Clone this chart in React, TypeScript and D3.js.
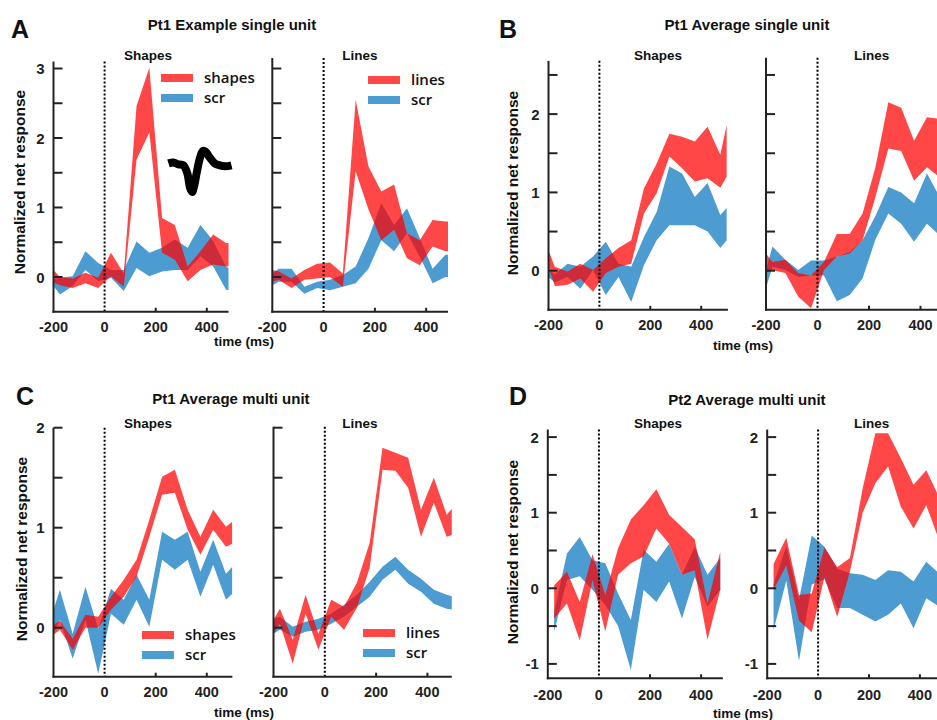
import React from 'react';
import * as d3 from 'd3';

// ---------- data ----------
const TIME = [-200, -175, -125, -75, -25, 25, 75, 125, 175, 225, 275, 325, 375, 425, 475, 500];
const X_TICKS = [-200, 0, 200, 400];

// Panel A: Pt1 Example single unit
const aShapesHi = [0.1, 0.0, -0.02, 0.06, -0.01, 0.35, 0.05, 2.46, 3.01, 0.85, 0.75, 0.15, 0.37, 0.61, 0.49, 0.48];
const aShapesLo = [-0.08, -0.12, -0.16, -0.09, -0.16, 0.01, -0.14, 1.69, 2.08, 0.35, 0.25, -0.06, 0.1, 0.18, 0.15, 0.15];
const aShapesScrHi = [-0.04, -0.01, 0.01, 0.37, 0.2, 0.1, 0.1, 0.51, 0.35, 0.42, 0.54, 0.42, 0.75, 0.52, 0.15, 0.1];
const aShapesScrLo = [-0.13, -0.25, -0.13, 0.1, -0.06, -0.01, -0.2, 0.13, 0.01, 0.08, 0.1, 0.1, 0.3, 0.15, -0.18, -0.2];
const aLinesHi = [0.1, 0.08, -0.02, 0.1, 0.19, 0.21, 0.05, 2.55, 1.59, 1.23, 1.33, 0.63, 0.53, 0.82, 0.8, 0.8];
const aLinesLo = [-0.07, -0.04, -0.16, -0.04, -0.02, 0.0, -0.14, 1.52, 0.97, 0.53, 0.68, 0.27, 0.17, 0.44, 0.37, 0.37];
const aLinesScrHi = [0.05, 0.12, 0.12, -0.14, -0.07, -0.04, 0.03, 0.15, 0.56, 1.06, 0.75, 0.99, 0.56, 0.12, 0.32, 0.32];
const aLinesScrLo = [-0.12, -0.07, -0.07, -0.24, -0.16, -0.19, -0.14, -0.09, 0.12, 0.53, 0.37, 0.63, 0.29, -0.09, 0.0, 0.0];

// Panel B: Pt1 Average single unit
const bShapesHi = [0.26, 0.05, -0.01, 0.09, 0.01, 0.16, 0.29, 0.39, 1.05, 1.37, 1.75, 1.71, 1.65, 1.84, 1.48, 1.86];
const bShapesLo = [0.05, -0.2, -0.18, -0.1, -0.27, -0.03, 0.05, 0.09, 0.73, 0.99, 1.46, 1.31, 1.14, 1.18, 1.06, 1.2];
const bShapesScrHi = [0.01, -0.05, 0.09, 0.05, 0.18, 0.37, 0.09, 0.05, 0.43, 0.75, 1.33, 1.24, 0.94, 1.12, 0.71, 0.8];
const bShapesScrLo = [-0.08, -0.15, -0.08, -0.23, 0.01, -0.31, -0.08, -0.4, 0.07, 0.39, 0.58, 0.58, 0.58, 0.5, 0.29, 0.39];
const bLinesHi = [0.22, 0.11, 0.14, -0.03, -0.06, 0.11, 0.47, 0.47, 0.73, 1.32, 2.15, 2.08, 1.66, 1.96, 1.94, 1.94];
const bLinesLo = [-0.03, 0.01, -0.03, -0.33, -0.48, 0.01, 0.18, 0.22, 0.39, 0.94, 1.56, 1.53, 1.15, 1.32, 1.19, 1.19];
const bLinesScrHi = [0.01, 0.31, 0.14, 0.01, 0.13, 0.13, 0.18, 0.24, 0.39, 0.7, 1.07, 1.0, 0.86, 1.24, 0.94, 0.94];
const bLinesScrLo = [-0.22, 0.05, 0.01, -0.08, -0.06, -0.06, -0.39, -0.31, -0.1, 0.4, 0.73, 0.6, 0.37, 0.6, 0.45, 0.45];

// Panel C: Pt1 Average multi unit
const cShapesHi = [0.03, 0.07, -0.11, 0.13, 0.11, 0.31, 0.48, 0.68, 1.08, 1.51, 1.58, 1.18, 0.91, 1.18, 1.01, 1.06];
const cShapesLo = [-0.07, -0.02, -0.22, 0.0, 0.0, 0.18, 0.31, 0.51, 0.91, 1.33, 1.35, 0.98, 0.73, 0.98, 0.81, 0.84];
const cShapesScrHi = [0.18, 0.38, -0.06, 0.41, -0.01, 0.39, 0.28, 0.53, 0.28, 0.96, 0.88, 0.96, 0.56, 0.88, 0.54, 0.61];
const cShapesScrLo = [-0.06, 0.08, -0.31, 0.08, -0.46, 0.14, 0.03, 0.28, 0.01, 0.68, 0.58, 0.68, 0.31, 0.63, 0.28, 0.34];
const cLinesHi = [0.08, 0.19, -0.12, 0.33, -0.06, 0.28, 0.21, 0.45, 0.85, 1.8, 1.75, 1.7, 1.18, 1.5, 1.13, 1.2];
const cLinesLo = [-0.06, 0.04, -0.36, 0.14, -0.22, 0.11, -0.02, 0.2, 0.6, 1.58, 1.57, 1.4, 0.91, 1.25, 0.91, 0.93];
const cLinesScrHi = [0.09, 0.11, 0.01, 0.06, 0.09, 0.14, 0.23, 0.33, 0.46, 0.61, 0.71, 0.58, 0.49, 0.38, 0.33, 0.31];
const cLinesScrLo = [-0.06, -0.02, -0.09, -0.04, -0.02, 0.04, 0.11, 0.21, 0.31, 0.48, 0.58, 0.44, 0.36, 0.24, 0.19, 0.18];

// Panel D: Pt2 Average multi unit
const dShapesHi = [null, 0.04, 0.22, -0.18, 0.45, -0.09, 0.53, 0.91, 1.1, 1.31, 0.97, 0.81, 0.65, -0.2, 0.48, null];
const dShapesLo = [null, -0.4, -0.2, -0.69, 0.11, -0.57, 0.18, 0.33, 0.42, 0.79, 0.59, 0.18, 0.24, -0.68, -0.02, null];
const dShapesScrHi = [null, -0.31, 0.46, 0.68, 0.37, 0.33, -0.07, -0.42, 0.51, 0.35, 0.59, 0.18, 0.55, 0.18, 0.4, null];
const dShapesScrLo = [null, -0.57, 0.11, 0.16, -0.02, -0.22, -0.5, -1.08, -0.02, -0.18, 0.09, -0.4, 0.15, -0.24, -0.02, null];
const dLinesHi = [null, 0.32, 0.67, -0.09, -0.07, 0.54, 0.28, 0.4, 1.32, 2.05, 2.05, 1.72, 1.37, 1.56, 1.21, null];
const dLinesLo = [null, -0.02, 0.3, -0.43, -0.58, 0.15, -0.38, 0.22, 1.0, 1.39, 1.61, 1.08, 0.79, 1.1, 0.64, null];
const dLinesScrHi = [null, 0.05, 0.56, -0.15, 0.7, 0.55, 0.26, 0.2, 0.18, 0.11, 0.24, 0.22, 0.09, 0.35, 0.2, null];
const dLinesScrLo = [null, -0.55, 0.1, -0.96, 0.05, 0.12, -0.26, -0.26, -0.35, -0.44, -0.35, -0.2, -0.53, -0.13, -0.24, null];

// spike waveform inset (panel A)
const WAVE_T = [0, 5, 10, 15, 19, 22, 24, 26, 29, 32, 35, 38, 42, 47, 52, 58, 64];
const WAVE_V = [0.1, 0.15, 0.05, 0.0, -0.4, -1.2, -1.4, -1.1, -0.3, 0.4, 0.75, 0.7, 0.4, 0.1, 0.0, -0.05, 0.0];

// ---------- style ----------
const RED = 'rgb(255,0,0)';
const BLUE = 'rgb(0,114,189)';
const RED_OP = 0.72;
const BLUE_OP = 0.7;
const FONT = "'Liberation Sans', Arial, sans-serif";
const LEGEND_FONT = "'Open Sans', 'Liberation Sans', sans-serif";
const AXIS = '#222';

type Arr = (number | null)[];
interface Cfg {
  id: string;
  x0: number; k: number; tEnd: number;
  y0: number; u: number; vMin: number; vMax: number;
  major: number[]; minor: number[];
  yLabels: boolean;
  sub: string; subX: number; subY: number;
  redHi: Arr; redLo: Arr; blueHi: Arr; blueLo: Arr;
  legend?: { label: string; x: number; y: number };
  tickLabelY: number;
}

function Panel({ c }: { c: Cfg }) {
  const xs = d3.scaleLinear().domain([-200, c.tEnd]).range([c.x0, c.x0 + (c.tEnd + 200) * c.k]);
  const ys = d3.scaleLinear().domain([c.vMin, c.vMax]).range([c.y0 - c.vMin * c.u, c.y0 - c.vMax * c.u]);
  const idx = TIME.map((_, i) => i);
  const band = (hi: Arr, lo: Arr) =>
    d3.area<number>()
      .defined(i => hi[i] != null && lo[i] != null)
      .x(i => xs(TIME[i]))
      .y0(i => ys(lo[i] as number))
      .y1(i => ys(hi[i] as number))(idx) || '';
  const [xa, xb] = xs.range();
  const [yb, yt] = ys.range();
  return (
    <g>
      <defs>
        <clipPath id={'clip' + c.id}>
          <rect x={xa} y={0} width={xb - xa} height={720} />
        </clipPath>
      </defs>
      <g clipPath={`url(#clip${c.id})`}>
        <path d={band(c.blueHi, c.blueLo)} fill={BLUE} fillOpacity={BLUE_OP} />
        <path d={band(c.redHi, c.redLo)} fill={RED} fillOpacity={RED_OP} />
      </g>
      <line x1={xs(0)} x2={xs(0)} y1={yt} y2={yb} stroke="#000" strokeWidth={2} strokeDasharray="2,2" />
      <line x1={xa} x2={xa} y1={yt} y2={yb + 1} stroke={AXIS} strokeWidth={2} />
      <line x1={xa - 1} x2={xb} y1={yb} y2={yb} stroke={AXIS} strokeWidth={2} />
      {c.major.concat(c.minor).map(v => (
        <line key={'t' + v} x1={xa} x2={xa + 9} y1={ys(v)} y2={ys(v)} stroke={AXIS} strokeWidth={2} />
      ))}
      {c.yLabels && c.major.map(v => (
        <text key={'l' + v} x={xa - 9} y={ys(v) + 5.5} textAnchor="end" fontFamily={FONT} fontWeight="bold" fontSize={15} fill="#222">{v}</text>
      ))}
      {X_TICKS.filter(t => t > 0 && t <= c.tEnd).map(t => (
        <line key={'xt' + t} x1={xs(t)} x2={xs(t)} y1={yb} y2={yb - 4} stroke={AXIS} strokeWidth={2} />
      ))}
      {X_TICKS.map(t => (
        <text key={'xl' + t} x={xs(t)} y={c.tickLabelY} textAnchor="middle" fontFamily={FONT} fontWeight="bold" fontSize={14.5} fill="#222">{t}</text>
      ))}
      <text x={c.subX} y={c.subY} textAnchor="middle" fontFamily={FONT} fontWeight="bold" fontSize={13.5} fill="#111">{c.sub}</text>
      {c.legend && (
        <g>
          <line x1={c.legend.x} x2={c.legend.x + 32} y1={c.legend.y} y2={c.legend.y} stroke={RED} strokeOpacity={RED_OP} strokeWidth={8} />
          <line x1={c.legend.x} x2={c.legend.x + 32} y1={c.legend.y + 20} y2={c.legend.y + 20} stroke={BLUE} strokeOpacity={BLUE_OP} strokeWidth={8} />
          <text x={c.legend.x + 43} y={c.legend.y + 5} fontFamily={LEGEND_FONT} fontWeight={600} fontSize={15} fill="#111">{c.legend.label}</text>
          <text x={c.legend.x + 43} y={c.legend.y + 25} fontFamily={LEGEND_FONT} fontWeight={600} fontSize={15} fill="#111">scr</text>
        </g>
      )}
    </g>
  );
}

const panels: Cfg[] = [
  { id: 'as', x0: 53.5, k: 0.2555, tEnd: 485, y0: 277, u: 69.5, vMin: -0.5, vMax: 3.1, major: [0, 1, 2, 3], minor: [0.5, 1.5, 2.5], yLabels: true,
    sub: 'Shapes', subX: 148, subY: 60, redHi: aShapesHi, redLo: aShapesLo, blueHi: aShapesScrHi, blueLo: aShapesScrLo,
    legend: { label: 'shapes', x: 161, y: 78 }, tickLabelY: 332 },
  { id: 'al', x0: 272.3, k: 0.2565, tEnd: 485, y0: 277, u: 69.5, vMin: -0.5, vMax: 3.15, major: [0, 1, 2, 3], minor: [0.5, 1.5, 2.5], yLabels: false,
    sub: 'Lines', subX: 360, subY: 60, redHi: aLinesHi, redLo: aLinesLo, blueHi: aLinesScrHi, blueLo: aLinesScrLo,
    legend: { label: 'lines', x: 368, y: 80 }, tickLabelY: 332 },
  { id: 'bs', x0: 548.5, k: 0.2545, tEnd: 505, y0: 270.7, u: 78.3, vMin: -0.5, vMax: 2.68, major: [0, 1, 2], minor: [0.5, 1.5, 2.5], yLabels: true,
    sub: 'Shapes', subX: 658, subY: 60, redHi: bShapesHi, redLo: bShapesLo, blueHi: bShapesScrHi, blueLo: bShapesScrLo, tickLabelY: 330 },
  { id: 'bl', x0: 766, k: 0.2575, tEnd: 700, y0: 270.7, u: 78.3, vMin: -0.5, vMax: 2.72, major: [0, 1, 2], minor: [0.5, 1.5, 2.5], yLabels: false,
    sub: 'Lines', subX: 871.7, subY: 60, redHi: bLinesHi, redLo: bLinesLo, blueHi: bLinesScrHi, blueLo: bLinesScrLo, tickLabelY: 330 },
  { id: 'cs', x0: 53.5, k: 0.2555, tEnd: 500, y0: 627.7, u: 100, vMin: -0.49, vMax: 2.0, major: [0, 1, 2], minor: [0.5, 1.5], yLabels: true,
    sub: 'Shapes', subX: 148, subY: 428, redHi: cShapesHi, redLo: cShapesLo, blueHi: cShapesScrHi, blueLo: cShapesScrLo,
    legend: { label: 'shapes', x: 142, y: 635 }, tickLabelY: 697 },
  { id: 'cl', x0: 273.5, k: 0.2565, tEnd: 495, y0: 627.7, u: 100, vMin: -0.49, vMax: 2.01, major: [0, 1, 2], minor: [0.5, 1.5], yLabels: false,
    sub: 'Lines', subX: 360, subY: 428, redHi: cLinesHi, redLo: cLinesLo, blueHi: cLinesScrHi, blueLo: cLinesScrLo,
    legend: { label: 'lines', x: 363, y: 633 }, tickLabelY: 697 },
  { id: 'ds', x0: 547.8, k: 0.2555, tEnd: 485, y0: 588.3, u: 75.6, vMin: -1.19, vMax: 2.1, major: [-1, 0, 1, 2], minor: [-0.5, 0.5, 1.5], yLabels: true,
    sub: 'Shapes', subX: 658, subY: 428, redHi: dShapesHi, redLo: dShapesLo, blueHi: dShapesScrHi, blueLo: dShapesScrLo, tickLabelY: 700 },
  { id: 'dl', x0: 767.2, k: 0.2545, tEnd: 700, y0: 588.3, u: 75.6, vMin: -1.19, vMax: 2.1, major: [-1, 0, 1, 2], minor: [-0.5, 0.5, 1.5], yLabels: true,
    sub: 'Lines', subX: 871.7, subY: 428, redHi: dLinesHi, redLo: dLinesLo, blueHi: dLinesScrHi, blueLo: dLinesScrLo, tickLabelY: 700 },
];

const TITLES = [
  { text: 'Pt1 Example single unit', x: 232, y: 30 },
  { text: 'Pt1 Average single unit', x: 747, y: 30 },
  { text: 'Pt1 Average multi unit', x: 231, y: 404 },
  { text: 'Pt2 Average multi unit', x: 747, y: 405 },
];
const LETTERS = [
  { text: 'A', x: 11, y: 38 },
  { text: 'B', x: 499, y: 38 },
  { text: 'C', x: 16, y: 405 },
  { text: 'D', x: 509, y: 405 },
];
const YTITLES = [
  { x: 25, y: 182 },
  { x: 518, y: 183 },
  { x: 27, y: 549 },
  { x: 518, y: 552 },
];
const XTITLES = [
  { x: 244, y: 346 },
  { x: 743, y: 350 },
  { x: 244, y: 717 },
  { x: 743, y: 718 },
];

function Waveform() {
  const wx = d3.scaleLinear().domain([0, 64]).range([168.5, 231.5]);
  const wy = d3.scaleLinear().domain([-1.4, 0.75]).range([192, 151]);
  const idx = WAVE_T.map((_, i) => i);
  const line = d3.line<number>().x(i => wx(WAVE_T[i])).y(i => wy(WAVE_V[i])).curve(d3.curveCatmullRom);
  return <path d={line(idx) || ''} fill="none" stroke="#000" strokeWidth={8} strokeLinejoin="round" />;
}

export default function App() {
  return (
    <svg width={937} height={720} style={{ position: 'absolute', left: 0, top: 0, background: '#fff' }}>
      <rect x={0} y={0} width={937} height={720} fill="#fff" />
      {panels.map(p => <Panel key={p.id} c={p} />)}
      <Waveform />
      {TITLES.map(t => (
        <text key={t.text} x={t.x} y={t.y} textAnchor="middle" fontFamily={FONT} fontWeight="bold" fontSize={15} fill="#111">{t.text}</text>
      ))}
      {LETTERS.map(t => (
        <text key={t.text} x={t.x} y={t.y} fontFamily={FONT} fontWeight="bold" fontSize={25} fill="#111">{t.text}</text>
      ))}
      {YTITLES.map((t, i) => (
        <text key={'yt' + i} transform={`translate(${t.x},${t.y}) rotate(-90)`} textAnchor="middle" fontFamily={FONT} fontWeight="bold" fontSize={15.5} fill="#111">Normalized net response</text>
      ))}
      {XTITLES.map((t, i) => (
        <text key={'xt' + i} x={t.x} y={t.y} textAnchor="middle" fontFamily={FONT} fontWeight="bold" fontSize={13.5} fill="#111">time (ms)</text>
      ))}
    </svg>
  );
}
